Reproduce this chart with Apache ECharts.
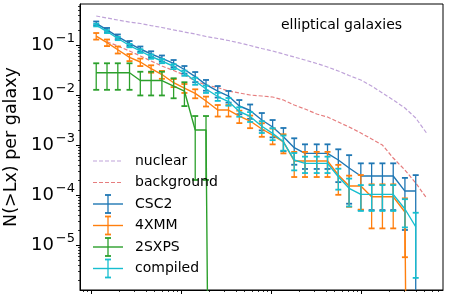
<!DOCTYPE html>
<html><head><meta charset="utf-8">
<script src="https://cdn.jsdelivr.net/npm/echarts@6/dist/echarts.min.js"></script>
<style>html,body{margin:0;padding:0;background:#fff}#c{width:463px;height:296px}</style>
</head><body><div id="c"></div>
<script>
// log10(Lx) of each bin (nuclear/background extend one bin further)
const logLx = [38.05, 38.17, 38.29, 38.42, 38.54, 38.66, 38.78, 38.91, 39.03, 39.15,
               39.27, 39.40, 39.52, 39.64, 39.76, 39.89, 40.01, 40.13, 40.25, 40.37,
               40.50, 40.62, 40.74, 40.86, 40.99, 41.11, 41.23, 41.35, 41.48, 41.60, 41.72];

const nuclear = [0.380, 0.347, 0.316, 0.288, 0.269, 0.245, 0.224, 0.200, 0.182, 0.166,
                 0.148, 0.135, 0.123, 0.110, 0.0977, 0.0851, 0.0759, 0.0661, 0.0575, 0.0501,
                 0.0427, 0.0363, 0.0302, 0.0245, 0.0200, 0.0151, 0.0110, 0.00794, 0.00550, 0.00347, 0.00174];

const background = [null, 0.1164, 0.0955, 0.0759, 0.0603, 0.0479, 0.0380, 0.0309, 0.0251, 0.0191,
                    0.0158, 0.0141, 0.0120, 0.0110, 0.0100, 0.00955, 0.00912, 0.00794, 0.00631, 0.00525,
                    0.00417, 0.00363, 0.00288, 0.00229, 0.00174, 0.00132, 0.00100, 0.00055, 0.000316, 0.000174, 0.0000871];

const csc2 = [0.272, 0.200, 0.147, 0.108, 0.0832, 0.0661, 0.0542, 0.0431, 0.0324, 0.0234,
              0.0161, 0.0120, 0.00955, 0.00603, 0.0049, 0.00316, 0.00229, 0.00147, 0.000883, 0.000682,
              0.000682, 0.000682, 0.000501, 0.000347, 0.00024, 0.00024, 0.00024, 0.00024, 0.00012, 0.00012];
const csc2Err = [0.0235, 0.0193, 0.0156, 0.0121, 0.0101, 0.0088, 0.0075, 0.0070, 0.0056, 0.0054,
                 0.0039, 0.0031, 0.0025, 0.0019, 0.00156, 0.0012, 0.00087, 0.00072, 0.00048, 0.00035,
                 0.00035, 0.00035, 0.00032, 0.00028, 0.00019, 0.00019, 0.00019, 0.00019, 0.0001, 0.00013];

const xmm4 = [0.151, 0.112, 0.0805, 0.0568, 0.0457, 0.0336, 0.0257, 0.0176, 0.0138, 0.0108,
              0.00759, 0.00501, 0.00501, 0.0038, 0.00302, 0.00209, 0.00158, 0.00116, 0.000479, 0.000479,
              0.000479, 0.000479, 0.000251, 0.000151, 0.000151, 0.0000925, 0.0000925, 0.0000925, 0.0000457, 0];
const xmm4Err = [0.0227, 0.0168, 0.0129, 0.0091, 0.0078, 0.0057, 0.0046, 0.0032, 0.0028, 0.0022,
                 0.0017, 0.0013, 0.0013, 0.00106, 0.00085, 0.00063, 0.00055, 0.00048, 0.00025, 0.00025,
                 0.00025, 0.00025, 0.00015, 0.000093, 0.0001, 0.000071, 0.000071, 0.000071, 0.00004, 0];

const sxps2 = [0.0279, 0.0279, 0.0279, 0.0279, 0.0195, 0.0195, 0.0195, 0.0151, 0.0120, 0.0020,
               0.0020, 0, 0, 0, 0, 0, 0, 0, 0, 0,
               0, 0, 0, 0, 0, 0, 0, 0, 0, 0];
const sxps2Err = [0.0152, 0.0152, 0.0152, 0.0152, 0.0097, 0.0097, 0.0097, 0.0065, 0.006, 0.0018,
                  0.0018, 0, 0, 0, 0, 0, 0, 0, 0, 0,
                  0, 0, 0, 0, 0, 0, 0, 0, 0, 0];

const compiled = [0.251, 0.186, 0.135, 0.0977, 0.0759, 0.0589, 0.0479, 0.0372, 0.0275, 0.0191,
                  0.0132, 0.00933, 0.00741, 0.00468, 0.00372, 0.00237, 0.00171, 0.00116, 0.000501, 0.00043,
                  0.00043, 0.00043, 0.000232, 0.000136, 0.000103, 0.000103, 0.000103, 0.000103, 0.0000525, 0.0000232];
const compiledErr = [0.0153, 0.0126, 0.0100, 0.0076, 0.0065, 0.0059, 0.0046, 0.0042, 0.0033, 0.0031,
                     0.0022, 0.0017, 0.0013, 0.0010, 0.00083, 0.00063, 0.00046, 0.00039, 0.00019, 0.000155,
                     0.000155, 0.000155, 0.000104, 0.000077, 0.000055, 0.000055, 0.000055, 0.000055, 0.00003, 0.000021];

const xMajorTicks = [1e38, 1e39, 1e40, 1e41];
const yMajorTicks = [1e-5, 1e-4, 1e-3, 1e-2, 1e-1];
const xRange = [7.41e37, 8.0e41];
const yRange = [1.26e-6, 0.661];

const xMinorTicks = [], yMinorTicks = [];
for (let e = 37; e <= 41; e++) for (let m = 2; m <= 9; m++) xMinorTicks.push(m * Math.pow(10, e));
for (let e = -6; e <= -1; e++) for (let m = 2; m <= 9; m++) yMinorTicks.push(m * Math.pow(10, e));

const FLOOR = 1e-30; // stand-in for zero on a log axis (drawn off the bottom, clipped)
const lx = logLx.map(v => Math.pow(10, v));
const FONT = 'DejaVu Sans';

function lineData(vals) {
  return vals.map((v, i) => [lx[i], v === null ? null : (v > 0 ? v : FLOOR)]);
}
function errData(vals, errs) {
  const out = [];
  vals.forEach((v, i) => {
    if (errs[i] > 0) out.push([lx[i], Math.max(v - errs[i], FLOOR), v + errs[i]]);
  });
  return out;
}
function errRender(color) {
  return function (params, api) {
    const x = api.value(0), lo = api.value(1), hi = api.value(2);
    const t = api.coord([x, hi]), b = api.coord([x, lo]);
    const cw = 3;
    const ch = [
      {type: 'line', shape: {x1: t[0], y1: t[1], x2: b[0], y2: b[1]}, style: {stroke: color, lineWidth: 1.3}},
      {type: 'line', shape: {x1: t[0] - cw, y1: t[1], x2: t[0] + cw, y2: t[1]}, style: {stroke: color, lineWidth: 1.8}}
    ];
    if (lo > FLOOR * 10) ch.push({type: 'line', shape: {x1: b[0] - cw, y1: b[1], x2: b[0] + cw, y2: b[1]}, style: {stroke: color, lineWidth: 1.8}});
    return {type: 'group', children: ch};
  };
}

const dataSeries = [
  {name: 'CSC2', vals: csc2, errs: csc2Err, color: '#1f77b4'},
  {name: '4XMM', vals: xmm4, errs: xmm4Err, color: '#ff7f0e'},
  {name: '2SXPS', vals: sxps2, errs: sxps2Err, color: '#2ca02c'},
  {name: 'compiled', vals: compiled, errs: compiledErr, color: '#17becf'}
];
const NUC_COLOR = '#bfa3d9', BKG_COLOR = '#e67d7e';

const series = [
  {type: 'line', name: 'nuclear', data: lineData(nuclear), showSymbol: false, symbol: 'none',
   lineStyle: {color: NUC_COLOR, width: 1.2, type: [4, 2]}, z: 2, silent: true},
  {type: 'line', name: 'background', data: lineData(background), showSymbol: false, symbol: 'none',
   lineStyle: {color: BKG_COLOR, width: 1.2, type: [4, 2]}, z: 2, silent: true}
];
dataSeries.forEach((s, i) => {
  series.push({type: 'line', name: s.name, data: lineData(s.vals), showSymbol: false, symbol: 'none',
    lineStyle: {color: s.color, width: 1.4}, z: 3 + i, clip: true, silent: true});
  series.push({type: 'custom', name: s.name + ' err', data: errData(s.vals, s.errs),
    dimensions: ['x', 'lo', 'hi'], encode: {x: 0, y: [1, 2]},
    renderItem: errRender(s.color), z: 3 + i, clip: true, silent: true});
});

// legend drawn as graphic elements
const legendRows = [
  {name: 'nuclear', color: NUC_COLOR, dashed: true},
  {name: 'background', color: BKG_COLOR, dashed: true},
  {name: 'CSC2', color: '#1f77b4'},
  {name: '4XMM', color: '#ff7f0e'},
  {name: '2SXPS', color: '#2ca02c'},
  {name: 'compiled', color: '#17becf'}
];
const graphic = [];
legendRows.forEach((r, i) => {
  const y = 161 + i * 21.5;
  graphic.push({type: 'line', shape: {x1: 93, y1: y, x2: 123, y2: y},
    style: {stroke: r.color, lineWidth: r.dashed ? 1.2 : 1.4, lineDash: r.dashed ? [4, 2] : null}, z: 20});
  if (!r.dashed) {
    graphic.push({type: 'line', shape: {x1: 108, y1: y - 9, x2: 108, y2: y + 9}, style: {stroke: r.color, lineWidth: 1.3}, z: 20});
    graphic.push({type: 'line', shape: {x1: 105, y1: y - 9, x2: 111, y2: y - 9}, style: {stroke: r.color, lineWidth: 1.8}, z: 20});
    graphic.push({type: 'line', shape: {x1: 105, y1: y + 9, x2: 111, y2: y + 9}, style: {stroke: r.color, lineWidth: 1.8}, z: 20});
  }
  graphic.push({type: 'text', x: 135, y: y, style: {text: r.name, fontFamily: FONT, fontSize: 14, fill: '#000', textVerticalAlign: 'middle', textAlign: 'left'}, z: 20});
});
graphic.push({type: 'text', x: 341.5, y: 25, style: {text: 'elliptical galaxies', fontFamily: FONT, fontSize: 14, fill: '#000', textAlign: 'center', textVerticalAlign: 'middle'}, z: 20});
graphic.push({type: 'text', x: 11, y: 147, rotation: Math.PI / 2, style: {text: 'N(>Lx) per galaxy', fontFamily: FONT, fontSize: 17.5, fill: '#000', textAlign: 'center', textVerticalAlign: 'middle'}, z: 20});

const chart = echarts.init(document.getElementById('c'), null, {renderer: 'canvas'});
chart.setOption({
  animation: false,
  backgroundColor: '#fff',
  grid: {left: 80, right: 20, top: 4, bottom: 6, show: true, borderColor: '#000', borderWidth: 1, outerBoundsMode: 'none', containLabel: false},
  xAxis: [
    {type: 'log', logBase: 10, min: xRange[0], max: xRange[1], position: 'bottom',
     axisLine: {show: true, onZero: false, lineStyle: {color: '#000', width: 1}},
     axisTick: {show: true, length: 4, customValues: xMajorTicks, lineStyle: {color: '#000', width: 1}},
     axisLabel: {show: false}, splitLine: {show: false}, minorTick: {show: false}},
    {type: 'log', logBase: 10, min: xRange[0], max: xRange[1], position: 'bottom',
     axisLine: {show: false, onZero: false},
     axisTick: {show: true, length: 2, customValues: xMinorTicks, lineStyle: {color: '#000', width: 0.8}},
     axisLabel: {show: false}, splitLine: {show: false}}
  ],
  yAxis: [
    {type: 'log', logBase: 10, min: yRange[0], max: yRange[1], position: 'left',
     axisLine: {show: true, onZero: false, lineStyle: {color: '#000', width: 1}},
     axisTick: {show: true, length: 4, customValues: yMajorTicks, lineStyle: {color: '#000', width: 1}},
     axisLabel: {show: true, customValues: yMajorTicks, margin: 5,
       formatter: function (v) { const e = Math.round(Math.log10(v)); return '{b|10}{s|\u2212' + (-e) + '}'; },
       rich: {b: {fontFamily: FONT, fontSize: 18, color: '#000', lineHeight: 26},
              s: {fontFamily: FONT, fontSize: 13, color: '#000', lineHeight: 12, verticalAlign: 'top', padding: [0, 0, 0, 2]}}},
     splitLine: {show: false}},
    {type: 'log', logBase: 10, min: yRange[0], max: yRange[1], position: 'left',
     axisLine: {show: false, onZero: false},
     axisTick: {show: true, length: 2, customValues: yMinorTicks, lineStyle: {color: '#000', width: 0.8}},
     axisLabel: {show: false}, splitLine: {show: false}}
  ],
  graphic: graphic,
  series: series
});
</script></body></html>
